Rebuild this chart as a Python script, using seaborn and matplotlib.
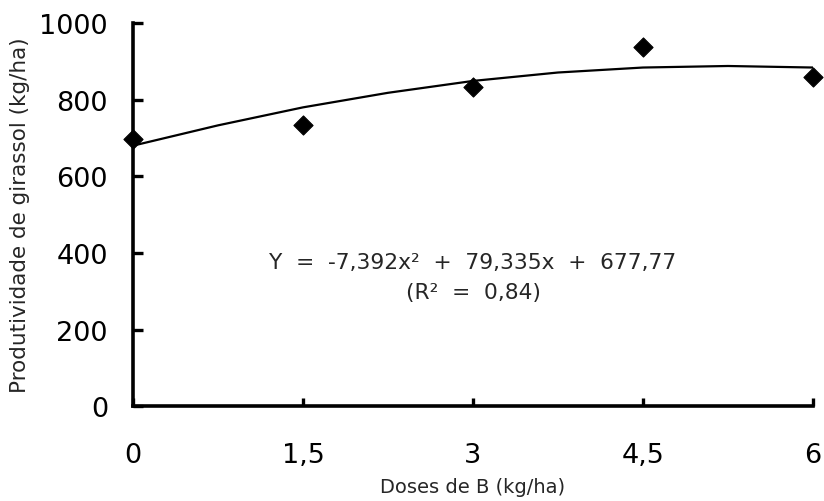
import pandas as pd
import matplotlib
matplotlib.use("Agg")
import matplotlib.pyplot as plt
import seaborn as sns

sns.set_theme(style="ticks")
plt.rcParams['font.family'] = ['DejaVu Sans']

# Pontos observados
doses = [0, 1.5, 3, 4.5, 6]
produtividade = [698, 735, 832, 937, 858]

# Curva ajustada
curva_x = [0, 0.75, 1.5, 2.25, 3, 3.75, 4.5, 5.25, 6]
curva_y = [680, 733, 780, 818, 849, 871, 884, 888, 884]

x_ticks = [0, 1.5, 3, 4.5, 6]
x_labels = ["0", "1,5", "3", "4,5", "6"]
y_ticks = [0, 200, 400, 600, 800, 1000]

df_pontos = pd.DataFrame({"dose": doses, "prod": produtividade})
df_curva = pd.DataFrame({"dose": curva_x, "prod": curva_y})

fig, ax = plt.subplots(figsize=(8.24, 5.02), dpi=100)
fig.subplots_adjust(left=0.1614, right=0.9866, top=0.952, bottom=0.189)

sns.lineplot(data=df_curva, x="dose", y="prod", color="black", linewidth=1.6, ax=ax)
sns.scatterplot(data=df_pontos, x="dose", y="prod", marker="D", s=95, color="black",
                edgecolor="black", zorder=3, clip_on=False, ax=ax)

ax.set_xlim(0, 6)
ax.set_ylim(0, 1000)
ax.set_xticks(x_ticks)
ax.set_xticklabels(x_labels)
ax.set_yticks(y_ticks)

sns.despine(ax=ax)
for lado in ["left", "bottom"]:
    ax.spines[lado].set_linewidth(2.6)
    ax.spines[lado].set_color("black")

ax.tick_params(axis="y", direction="in", length=7, width=2.4, labelsize=19.5, pad=18, colors="black")
ax.tick_params(axis="x", direction="in", length=6, width=2.4, labelsize=19.5, pad=26, colors="black")

ax.set_xlabel("Doses de B (kg/ha)", fontsize=14)
ax.set_ylabel("Produtividade de girassol (kg/ha)", fontsize=15.5)
ax.xaxis.set_label_coords(0.5, -0.185)
ax.yaxis.set_label_coords(-0.152, 0.5)

ax.text(3, 376, "Y  =  -7,392x²  +  79,335x  +  677,77", ha="center", va="center", fontsize=15.7)
ax.text(3, 298, "(R²  =  0,84)", ha="center", va="center", fontsize=15.7)

plt.savefig("out.png", dpi=100)
plt.close()
